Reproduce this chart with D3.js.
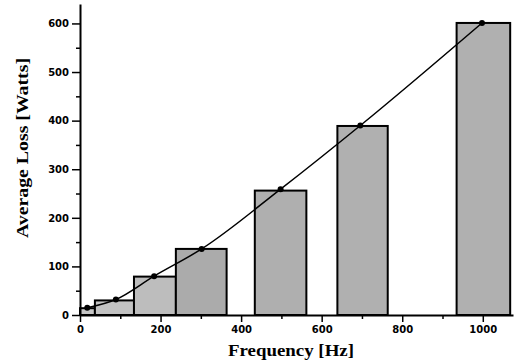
<!DOCTYPE html>
<html>
<head>
<meta charset="utf-8">
<script src="https://cdn.jsdelivr.net/npm/d3@7"></script>
<style>
  body { margin: 0; background: #fff; }
  .tick text { font-family: "DejaVu Sans", sans-serif; font-weight: bold; font-size: 10px; }
  .title { font-family: "Liberation Serif", "DejaVu Serif", serif; font-weight: bold; font-size: 17px; }
</style>
</head>
<body>
<svg></svg>
<script>
var width = 516;
var height = 362;

// bars: frequency band edges and average loss
var barStart = [0, 37, 134, 238, 434, 639, 935];
var barEnd   = [37, 134, 238, 364, 562, 764, 1068];
var barLoss  = [14, 30, 79, 136, 256, 389, 601];
var barShade = ["#c6c6c6", "#c2c2c2", "#bdbdbd", "#ababab", "#afafaf", "#b0b0b0", "#b0b0b0"];

// measured points joined by the curve
var pointFreq = [18, 89, 184, 302, 498, 696, 998];
var pointLoss = [15, 32, 80, 136, 259, 390, 601];

var xTicks = [0, 200, 400, 600, 800, 1000];
var yTicks = [0, 100, 200, 300, 400, 500, 600];

var x = d3.scaleLinear().domain([0, 1075]).range([80, 513]);
var y = d3.scaleLinear().domain([0, 640]).range([315, 4]);

var svg = d3.select("svg")
    .attr("width", width)
    .attr("height", height);

// bars
svg.append("g")
  .selectAll("rect")
  .data(barLoss)
  .enter()
  .append("rect")
    .attr("x", (d, i) => x(barStart[i]))
    .attr("width", (d, i) => x(barEnd[i]) - x(barStart[i]))
    .attr("y", d => y(d))
    .attr("height", d => y(0) - y(d))
    .attr("fill", (d, i) => barShade[i])
    .attr("stroke", "#000")
    .attr("stroke-width", 2);

// curve
var pts = pointFreq.map((f, i) => [f, pointLoss[i]]);
svg.append("path")
    .datum(pts)
    .attr("fill", "none")
    .attr("stroke", "#000")
    .attr("stroke-width", 1.5)
    .attr("d", d3.line()
      .x(d => x(d[0]))
      .y(d => y(d[1]))
      .curve(d3.curveMonotoneX));

svg.append("g")
  .selectAll("circle")
  .data(pts)
  .enter()
  .append("circle")
    .attr("cx", d => x(d[0]))
    .attr("cy", d => y(d[1]))
    .attr("r", 3)
    .attr("fill", "#000");

// minor ticks
svg.append("g")
    .attr("transform", `translate(0, ${y(0)})`)
    .call(d3.axisBottom(x).tickValues(d3.range(100, 1075, 200)).tickSize(4).tickFormat(""))
    .call(g => g.select(".domain").remove())
    .selectAll("line").attr("stroke-width", 1.5);

svg.append("g")
    .attr("transform", `translate(${x(0)}, 0)`)
    .call(d3.axisLeft(y).tickValues(d3.range(50, 640, 100)).tickSize(4).tickFormat(""))
    .call(g => g.select(".domain").remove())
    .selectAll("line").attr("stroke-width", 1.5);

// main axes
var xAxis = svg.append("g")
    .attr("transform", `translate(0, ${y(0)})`)
    .call(d3.axisBottom(x).tickValues(xTicks).tickFormat(d3.format("d"))
      .tickSize(7).tickSizeOuter(0).tickPadding(4));

var yAxis = svg.append("g")
    .attr("transform", `translate(${x(0)}, 0)`)
    .call(d3.axisLeft(y).tickValues(yTicks).tickFormat(d3.format("d"))
      .tickSize(8).tickSizeOuter(0).tickPadding(3));

[xAxis, yAxis].forEach(g => {
  g.select(".domain").attr("stroke-width", 2);
  g.selectAll(".tick line").attr("stroke-width", 1.5);
});

svg.append("text")
    .classed("title", true)
    .attr("x", 291)
    .attr("y", 356)
    .attr("text-anchor", "middle")
    .attr("textLength", 126)
    .attr("lengthAdjust", "spacingAndGlyphs")
    .text("Frequency [Hz]");

svg.append("text")
    .classed("title", true)
    .attr("transform", "translate(28, 148) rotate(-90)")
    .attr("text-anchor", "middle")
    .attr("textLength", 180)
    .attr("lengthAdjust", "spacingAndGlyphs")
    .text("Average Loss [Watts]");
</script>
</body>
</html>
